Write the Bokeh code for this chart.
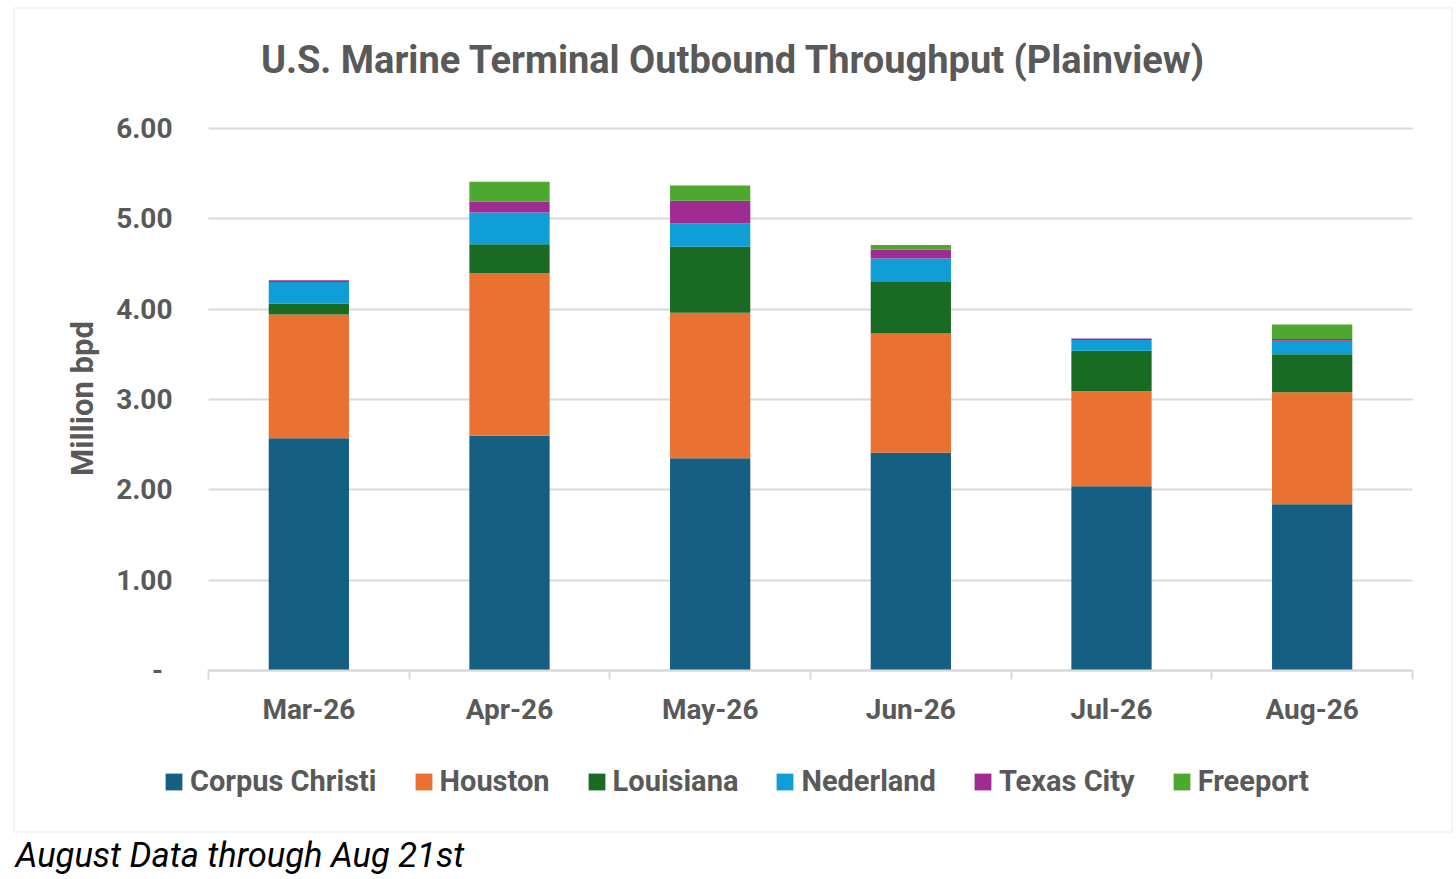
import math
from bokeh.plotting import figure
from bokeh.models import (ColumnDataSource, Range1d, FixedTicker, NumeralTickFormatter,
                          Label, Legend, LegendItem, BoxAnnotation, Grid)
from bokeh.embed import file_html
from bokeh.resources import INLINE

# ---------------- data ----------------
months = ["Mar-26", "Apr-26", "May-26", "Jun-26", "Jul-26", "Aug-26"]
corpus_christi = [2.57, 2.60, 2.35, 2.41, 2.04, 1.84]
houston = [1.37, 1.80, 1.61, 1.32, 1.05, 1.24]
louisiana = [0.12, 0.32, 0.73, 0.57, 0.45, 0.42]
nederland = [0.24, 0.35, 0.26, 0.26, 0.12, 0.15]
texas_city = [0.02, 0.12, 0.25, 0.10, 0.015, 0.02]
freeport = [0.00, 0.22, 0.17, 0.05, 0.00, 0.16]
series_names = ["Corpus Christi", "Houston", "Louisiana", "Nederland", "Texas City", "Freeport"]
series_keys = ["corpus_christi", "houston", "louisiana", "nederland", "texas_city", "freeport"]
colors = ["#156082", "#E97132", "#196B24", "#0F9ED5", "#A02B93", "#4EA72E"]
y_ticks = [0, 1, 2, 3, 4, 5, 6]

title_text = "U.S. Marine Terminal Outbound Throughput (Plainview)"
y_label_text = "Million bpd"
footnote_text = "August Data through Aug 21st"

# ---------------- layout ----------------
W, H = 1454, 877
PL, PR, PT, PB = 208, 1412, 128, 670      # plot area (data 0..n, 0..YMAX) in canvas px
n = len(months)
YMAX = 6.0
FONT = "Roboto"
GRAY = "#595959"
LINE = "#D9D9D9"


def cx(px):
    return (px - PL) / (PR - PL) * n


def cy(py):
    return (PB - py) / (PB - PT) * YMAX


xs = [i + 0.5 for i in range(n)]
source = ColumnDataSource(dict(
    x=xs,
    corpus_christi=corpus_christi,
    houston=houston,
    louisiana=louisiana,
    nederland=nederland,
    texas_city=texas_city,
    freeport=freeport,
))

# the frame covers the whole canvas; axes are pinned inside it
p = figure(width=W, height=H, x_range=Range1d(cx(0), cx(W)), y_range=Range1d(cy(H), cy(0)),
           output_backend="svg", toolbar_location=None,
           min_border_left=0, min_border_right=0, min_border_top=0, min_border_bottom=0)
p.title.visible = False
p.outline_line_color = None
p.background_fill_color = "white"
p.border_fill_color = "white"

# gridlines limited to the plot area
p.xgrid.visible = False
if "cross_bounds" in Grid.properties():
    p.ygrid.ticker = FixedTicker(ticks=y_ticks)
    p.ygrid.bounds = (0, YMAX)
    p.ygrid.cross_bounds = (0, n)
    p.ygrid.grid_line_color = LINE
    p.ygrid.grid_line_width = 2
else:
    p.ygrid.visible = False
    p.segment(x0=[0] * len(y_ticks), x1=[n] * len(y_ticks), y0=y_ticks, y1=y_ticks,
              line_color=LINE, line_width=2)

renderers = p.vbar_stack(series_keys, x="x", width=0.4, source=source,
                         fill_color=colors, line_color=None)

# x axis
p.xaxis.fixed_location = 0
p.xaxis.bounds = (0, n)
p.xaxis.ticker = FixedTicker(ticks=xs, minor_ticks=list(range(n + 1)))
p.xaxis.major_label_overrides = {x: m for x, m in zip(xs, months)}
p.xaxis.major_tick_line_color = None
p.xaxis.major_tick_in = 0
p.xaxis.major_tick_out = 0
p.xaxis.minor_tick_in = 0
p.xaxis.minor_tick_out = 9
p.xaxis.minor_tick_line_color = LINE
p.xaxis.minor_tick_line_width = 2
p.xaxis.axis_line_color = LINE
p.xaxis.axis_line_width = 2
p.xaxis.major_label_standoff = 13
p.xaxis.major_label_text_font = FONT
p.xaxis.major_label_text_font_style = "bold"
p.xaxis.major_label_text_font_size = "28px"
p.xaxis.major_label_text_color = GRAY

# y axis
p.yaxis.fixed_location = 0
p.yaxis.bounds = (0, YMAX)
p.yaxis.ticker = FixedTicker(ticks=y_ticks)
p.yaxis.formatter = NumeralTickFormatter(format="0.00")
p.yaxis.major_label_overrides = {0: "-\u2004"}
p.yaxis.axis_line_color = None
p.yaxis.major_tick_line_color = None
p.yaxis.minor_tick_line_color = None
p.yaxis.major_tick_out = 0
p.yaxis.major_tick_in = 0
p.yaxis.major_label_standoff = 36
p.yaxis.major_label_text_font = FONT
p.yaxis.major_label_text_font_style = "bold"
p.yaxis.major_label_text_font_size = "28px"
p.yaxis.major_label_text_color = GRAY

# legend (location measured from the canvas bottom-left)
legend = Legend(items=[LegendItem(label=nm, renderers=[r]) for nm, r in zip(series_names, renderers)],
                orientation="horizontal", location=(163, H - 798))
legend.border_line_color = None
legend.background_fill_alpha = 0
legend.padding = 0
legend.margin = 0
legend.spacing = 36
legend.label_standoff = 6
legend.glyph_width = 21
legend.glyph_height = 21
legend.label_text_font = FONT
legend.label_text_font_style = "bold"
legend.label_text_font_size = "29px"
legend.label_text_color = GRAY
p.add_layout(legend, "center")

# title
p.add_layout(Label(x=cx(733), y=cy(59), text=title_text, text_align="center",
                   text_baseline="alphabetic", text_font=FONT, text_font_style="bold",
                   text_font_size="38px", text_color=GRAY))
# y axis title
p.add_layout(Label(x=cx(82), y=cy(398), text=y_label_text, angle=math.pi / 2,
                   text_align="center", text_baseline="middle", text_font=FONT,
                   text_font_style="bold", text_font_size="31px", text_color=GRAY))
# footnote
p.add_layout(Label(x=cx(15), y=cy(854), text=footnote_text, text_align="left",
                   text_baseline="alphabetic", text_font=FONT, text_font_style="italic",
                   text_font_size="34.5px", text_color="black"))
# chart border
p.add_layout(BoxAnnotation(left=cx(13.5), right=cx(1451.5), top=cy(7.5), bottom=cy(831.5),
                           fill_color=None, fill_alpha=0, line_color=LINE, line_width=2))

open("out.html", "w").write(file_html(p, INLINE))
